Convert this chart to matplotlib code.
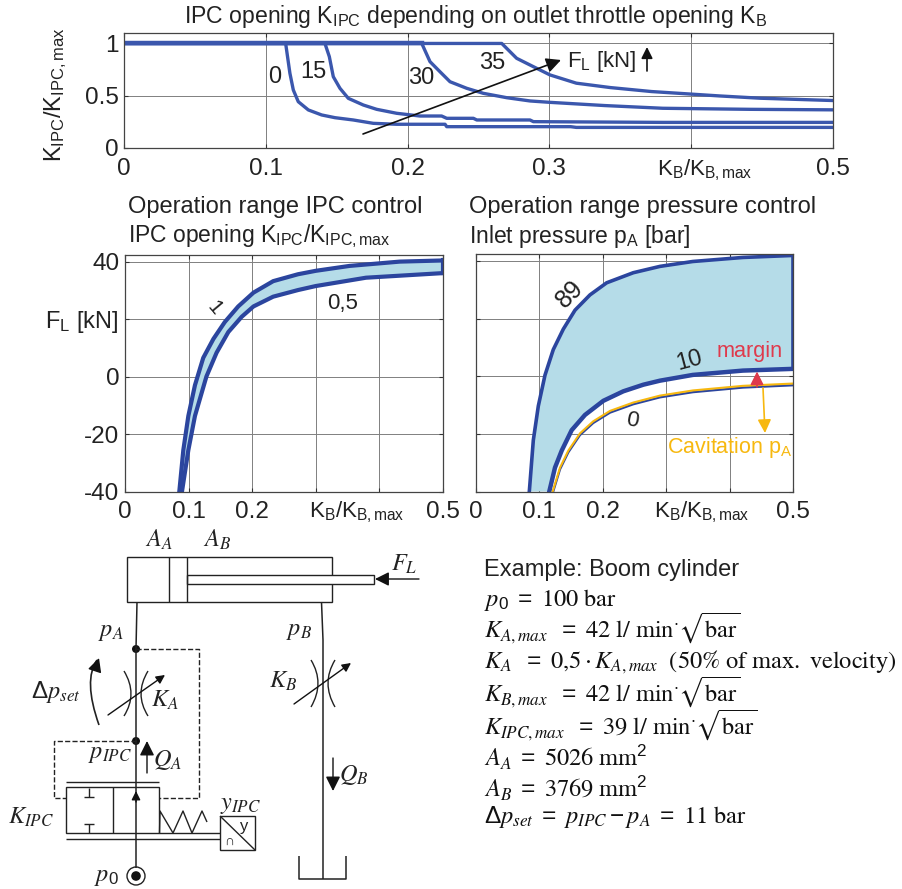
import numpy as np
import matplotlib
matplotlib.use("Agg")
import matplotlib.pyplot as plt
from matplotlib.patches import PathPatch, Rectangle, Circle
from matplotlib.path import Path

plt.rcParams['font.family'] = ['Liberation Sans', 'DejaVu Sans']
plt.rcParams['mathtext.fontset'] = 'stix'
plt.rcParams['mathtext.default'] = 'regular'

W, H = 903, 889
BLUE = "#2b459e"
BLUE_TOP = "#3b57ad"
BAND = "#b5dce8"
YELLOW = "#f7b80f"
RED = "#df3a4c"
TXT = "#222222"

# --- top chart: K_IPC over K_B for four loads ---
k0_x = [0, 0.114, 0.117, 0.1194, 0.1229, 0.13, 0.1394, 0.1488, 0.1617, 0.1758, 0.1923, 0.2264, 0.2276, 0.315, 0.319, 0.5]
k0_y = [1, 1, 0.715, 0.555, 0.443, 0.364, 0.316, 0.29, 0.268, 0.236, 0.227, 0.227, 0.204, 0.204, 0.197, 0.197]
k15_x = [0, 0.1417, 0.1448, 0.1476, 0.1523, 0.1582, 0.1688, 0.1782, 0.1923, 0.2087, 0.224, 0.2276, 0.2464, 0.2488, 0.2863, 0.2887, 0.38, 0.5]
k15_y = [1, 1, 0.874, 0.682, 0.571, 0.475, 0.411, 0.37, 0.332, 0.306, 0.306, 0.284, 0.284, 0.268, 0.268, 0.252, 0.245, 0.245]
k30_x = [0, 0.21, 0.2158, 0.2228, 0.2299, 0.2417, 0.2534, 0.27, 0.2863, 0.30, 0.339, 0.38, 0.441, 0.5]
k30_y = [1, 1, 0.826, 0.73, 0.634, 0.571, 0.523, 0.481, 0.45, 0.437, 0.406, 0.38, 0.37, 0.365]
k35_x = [0, 0.2664, 0.2769, 0.2887, 0.3004, 0.319, 0.343, 0.372, 0.42, 0.449, 0.5]
k35_y = [1, 1, 0.858, 0.778, 0.699, 0.62, 0.578, 0.54, 0.498, 0.476, 0.454]

# --- middle left: IPC control band ---
ipc1_x = [0.0854, 0.0917, 0.0996, 0.110, 0.123, 0.139, 0.157, 0.178, 0.202, 0.233, 0.272, 0.30, 0.353, 0.432, 0.5]
ipc1_y = [-40, -25.6, -13.7, -3, 6.5, 13.1, 19, 24.4, 29.2, 33.2, 35.6, 36.8, 38.5, 40, 40.4]
ipc05_x = [0.0896, 0.0996, 0.110, 0.128, 0.144, 0.1625, 0.1835, 0.202, 0.233, 0.272, 0.30, 0.379, 0.5]
ipc05_y = [-40, -25.6, -13.7, 0, 8.3, 15.5, 20.8, 24.4, 27.8, 30.1, 31.5, 34.4, 36]

# --- middle right: pressure control band ---
p89_x = [0.0841, 0.0904, 0.0983, 0.1088, 0.1219, 0.1377, 0.1562, 0.1798, 0.2061, 0.2481, 0.2902, 0.342, 0.421, 0.5]
p89_y = [-40, -22.2, -10.3, 0.4, 9.3, 16.4, 23, 28.3, 32.5, 36, 38.2, 39.9, 41.3, 42]
p10_x = [0.1156, 0.1246, 0.1352, 0.1509, 0.1719, 0.2008, 0.2323, 0.2639, 0.2902, 0.342, 0.421, 0.5]
p10_y = [-40, -31.7, -25.8, -18.7, -13.4, -8.5, -5.2, -2.9, -1.5, 0.5, 2, 2.6]
p0_x = [0.121, 0.1325, 0.1456, 0.164, 0.185, 0.2114, 0.248, 0.29, 0.342, 0.421, 0.5]
p0_y = [-40, -31.7, -25.8, -19.8, -15.6, -12, -9.1, -6.7, -4.9, -3.3, -2.5]

x_ticks = [0, 0.1, 0.2, 0.3, 0.4, 0.5]
top_xlabels = ["0", "0.1", "0.2", "0.3", "", "0.5"]
mid_xlabels = ["0", "0.1", "0.2", "", "", "0.5"]
top_yticks = [0, 0.5, 1]
top_ylabels = ["0", "0.5", "1"]
mid_yticks = [-40, -20, 0, 20, 40]
mid_ylabels = ["-40", "-20", "0", "", "40"]

params = [
    (606, r"$\mathit{p}_{0}\ =\ \mathrm{100\ bar}$"),
    (638, r"$\mathit{K}_{\mathit{A,max}}\ \ =\ \mathrm{42\ l/\ min}^{\cdot}\sqrt{\mathrm{bar}}$"),
    (668, r"$\mathit{K}_{\mathit{A}}\ \ =\ \mathrm{0{,}5}\cdot\mathit{K}_{\mathit{A,max}}\ \ \mathrm{(50\%\ of\ max.\ velocity)}$"),
    (702, r"$\mathit{K}_{\mathit{B,max}}\ \ =\ \mathrm{42\ l/\ min}^{\cdot}\sqrt{\mathrm{bar}}$"),
    (735, r"$\mathit{K}_{\mathit{IPC,max}}\ \ =\ \mathrm{39\ l/\ min}^{\cdot}\sqrt{\mathrm{bar}}$"),
    (766, r"$\mathit{A}_{\mathit{A}}\ =\ \mathrm{5026\ mm}^{2}$"),
    (797, r"$\mathit{A}_{\mathit{B}}\ =\ \mathrm{3769\ mm}^{2}$"),
    (823, r"$\Delta\mathit{p}_{\mathit{set}}\ =\ \mathit{p}_{\mathit{IPC}}-\mathit{p}_{\mathit{A}}\ =\ \mathrm{11\ bar}$"),
]

fig = plt.figure(figsize=(W / 100, H / 100), dpi=100)


def px_axes(x0, x1, ytop, ybot):
    return fig.add_axes([x0 / W, 1 - ybot / H, (x1 - x0) / W, (ybot - ytop) / H])


def style(ax, xlabels, yticks, ylabels, ylim):
    ax.set_xlim(0, 0.5)
    ax.set_ylim(*ylim)
    ax.set_xticks(x_ticks)
    ax.set_xticklabels(xlabels, fontsize=17.5, color=TXT)
    ax.set_yticks(yticks)
    ax.set_yticklabels(ylabels, fontsize=17.5, color=TXT)
    ax.tick_params(direction="in", length=3, width=0.8, top=True, right=True, color="#333333")
    ax.tick_params(axis="x", pad=7)
    ax.tick_params(axis="y", pad=4)
    ax.grid(True, color="#808080", lw=0.7)
    ax.set_axisbelow(True)
    for s in ax.spines.values():
        s.set_color("#444444")
        s.set_linewidth(0.9)


# top chart
ax = px_axes(124, 833, 33, 148)
for xs, ys in [(k0_x, k0_y), (k15_x, k15_y), (k30_x, k30_y), (k35_x, k35_y)]:
    ax.plot(xs, ys, color=BLUE_TOP, lw=2.4, solid_joinstyle="round")
ax.plot(k30_x[:2], k30_y[:2], color=BLUE_TOP, lw=3.2)
style(ax, top_xlabels, top_yticks, top_ylabels, (0, 1.1))

# operation range IPC
ax = px_axes(125, 443, 255, 491.5)
ax.fill(ipc1_x + ipc05_x[::-1], ipc1_y + ipc05_y[::-1], color=BAND, lw=0)
ax.plot(ipc1_x, ipc1_y, color=BLUE, lw=3.0)
ax.plot(ipc05_x, ipc05_y, color=BLUE, lw=3.0)
ax.plot([0.5, 0.5], [ipc05_y[-1], ipc1_y[-1]], color=BLUE, lw=3.0)
style(ax, mid_xlabels, mid_yticks, mid_ylabels, (-40, 42.3))

# operation range pressure
ax = px_axes(476, 793, 254, 491.5)
ax.fill(p89_x + p10_x[::-1], p89_y + p10_y[::-1], color=BAND, lw=0)
ax.plot(p89_x, p89_y, color=BLUE, lw=2.6)
ax.plot(p10_x, p10_y, color=BLUE, lw=3.2)
ax.plot([0.5, 0.5], [p10_y[-1], p89_y[-1]], color=BLUE, lw=2.6)
ax.plot(p0_x, np.array(p0_y) - 0.6, color=BLUE, lw=1.6)
ax.plot(p0_x, p0_y, color=YELLOW, lw=1.5)
style(ax, mid_xlabels, mid_yticks, [""] * 5, (-40, 42.5))

# overlay in pixel coordinates for annotations and the circuit drawing
ov = fig.add_axes([0, 0, 1, 1], zorder=5)
ov.set_xlim(0, W)
ov.set_ylim(H, 0)
ov.axis("off")
ov.patch.set_alpha(0)


def label(x, y, s, size=16, color=TXT, ha="center", rot=0, va="center"):
    ov.text(x, y, s, fontsize=size, color=color, ha=ha, va=va, rotation=rot)


def line(xs, ys, lw=1.0, color="#222222", ls="-"):
    ov.plot(xs, ys, color=color, lw=lw, ls=ls, solid_capstyle="butt")


def arrow(x0, y0, x1, y1, lw=1.0, color="#111111", ms=12):
    ov.annotate("", xy=(x1, y1), xytext=(x0, y0),
                arrowprops=dict(arrowstyle="-|>", color=color, lw=lw, mutation_scale=ms,
                                shrinkA=0, shrinkB=0))


def curve(p0, p1, p2, lw=1.0):
    path = Path([p0, p1, p2], [Path.MOVETO, Path.CURVE3, Path.CURVE3])
    ov.add_patch(PathPatch(path, fc="none", ec="#222222", lw=lw))


# titles and axis texts
label(476, 16, "IPC opening K$_{IPC}$ depending on outlet throttle opening K$_B$", size=16.6)
label(128, 207, "Operation range IPC control", size=17, ha="left")
label(128, 236, "IPC opening K$_{IPC}$/K$_{IPC,max}$", size=16.5, ha="left")
label(469, 207, "Operation range pressure control", size=17, ha="left")
label(469, 236, "Inlet pressure p$_{A}$ [bar]", size=16.5, ha="left")
label(56, 95, "K$_{IPC}$/K$_{IPC,max}$", size=17, rot=90)
label(705, 170, "K$_{B}$/K$_{B,max}$", size=16)
label(357, 512, "K$_{B}$/K$_{B,max}$", size=16)
label(702, 512, "K$_{B}$/K$_{B,max}$", size=16)
label(82, 322, "F$_{L}$ [kN]", size=17)

# curve labels, top
label(275, 77, "0", size=17)
label(313, 72, "15", size=17)
label(421, 78, "30", size=17)
label(492, 63, "35", size=17)
label(602, 61, "F$_{L}$ [kN]", size=16)
arrow(363, 134, 561, 60, lw=1.2, ms=22)
arrow(647, 71, 647, 47, lw=1.2, ms=17)

# curve labels, middle
label(214, 308, "1", size=15, rot=-50)
label(343, 304, "0,5", size=16)
label(570, 294, "89", size=18, rot=45)
label(689, 361, "10", size=17, rot=15)
label(632, 421, "0", size=16, rot=-10)
label(750, 351, "margin", size=15.6, color=RED)
label(730, 448, "Cavitation p$_{A}$", size=15.5, color=YELLOW)
arrow(757, 387, 757, 371.5, lw=1.2, color=RED, ms=20)
arrow(763, 388, 765, 433, lw=1.2, color=YELLOW, ms=20)

# cylinder
ov.add_patch(Rectangle((127, 557), 205, 45, fc="none", ec="#222222", lw=1))
line([169, 169], [557, 602])
line([187, 187], [557, 602])
ov.add_patch(Rectangle((187, 575), 187, 9, fc="white", ec="#222222", lw=1))
arrow(419, 579, 375, 579, ms=21)

# supply branch
line([137, 136, 136], [602, 649, 868], lw=1.1)
line([136, 199, 199, 159], [649, 649, 798, 798], ls="--")
line([136, 54, 54, 66], [741, 741, 798, 798], ls="--")
ov.add_patch(Circle((136, 649), 4, fc="#111111", ec="none"))
ov.add_patch(Circle((136, 741), 4, fc="#111111", ec="none"))
ov.add_patch(Circle((136, 876), 9, fc="white", ec="#222222", lw=1))
ov.add_patch(Circle((136, 876), 4.8, fc="#111111", ec="none"))

# throttle K_A
curve((124, 671), (138, 694), (124, 716))
curve((148, 671), (134, 694), (148, 716))
arrow(108, 715, 165, 675, ms=13)
curve((99, 725), (83, 680), (97, 660), lw=1.2)
arrow(97, 664, 99, 658, ms=21)

# flow arrows
arrow(147, 773, 147, 741, ms=22)
arrow(333, 758, 333, 791, ms=22)

# IPC valve
ov.add_patch(Rectangle((66, 787), 93, 46, fc="white", ec="#222222", lw=1, zorder=1.5))
line([113, 113], [787, 833])
line([66, 159], [782, 782])
line([66, 220], [839, 839])
line([159, 220], [833, 833])
line([89, 89], [788, 797])
line([84, 94], [797, 797])
line([84, 94], [824, 824])
line([89, 89], [824, 833])
arrow(136, 802, 136, 791, ms=13)
spring_x = [159.5, 160, 173, 183, 192, 202, 207]
spring_y = [833, 811, 833, 811, 833, 811, 822]
line(spring_x, spring_y)

# actuator box
ov.add_patch(Rectangle((220, 816), 35, 34, fc="white", ec="#222222", lw=1))
line([220, 255], [816, 850])
label(244, 826, "y", size=12, color=TXT)
label(229, 841, "∩", size=10, color=TXT)

# return branch with throttle K_B and tank
line([321.5, 323, 323], [602, 640, 879], lw=1.1)
curve((311, 660), (325, 683), (311, 707))
curve((335, 660), (321, 683), (335, 707))
arrow(294, 704, 351, 663, ms=13)
line([299, 299, 346, 346], [856, 879, 879, 856], lw=1.1)

# circuit labels
SERIF = 17.5
label(159, 540, r"$\mathit{A}_{\mathit{A}}$", size=SERIF)
label(217, 540, r"$\mathit{A}_{\mathit{B}}$", size=SERIF)
label(404, 564, r"$\mathit{F}_{\mathit{L}}$", size=SERIF)
label(111, 632, r"$\mathit{p}_{\mathit{A}}$", size=SERIF)
label(299, 631, r"$\mathit{p}_{\mathit{B}}$", size=SERIF)
label(56, 692, r"$\Delta\mathit{p}_{\mathit{set}}$", size=SERIF)
label(165, 700, r"$\mathit{K}_{\mathit{A}}$", size=SERIF)
label(283, 681, r"$\mathit{K}_{\mathit{B}}$", size=SERIF)
label(110, 754, r"$\mathit{p}_{\mathit{IPC}}$", size=SERIF)
label(168, 760, r"$\mathit{Q}_{\mathit{A}}$", size=SERIF)
label(354, 775, r"$\mathit{Q}_{\mathit{B}}$", size=SERIF)
label(31, 817, r"$\mathit{K}_{\mathit{IPC}}$", size=SERIF)
label(241, 805, r"$\mathit{y}_{\mathit{IPC}}$", size=SERIF)
label(106, 877, r"$\mathit{p}_{0}$", size=SERIF)

# parameter list
label(484, 570, "Example: Boom cylinder", size=17, ha="left")
for y, s in params:
    label(484, y, s, size=17.6, ha="left", color="#111111", va="baseline")

fig.savefig("out.png", dpi=100)
